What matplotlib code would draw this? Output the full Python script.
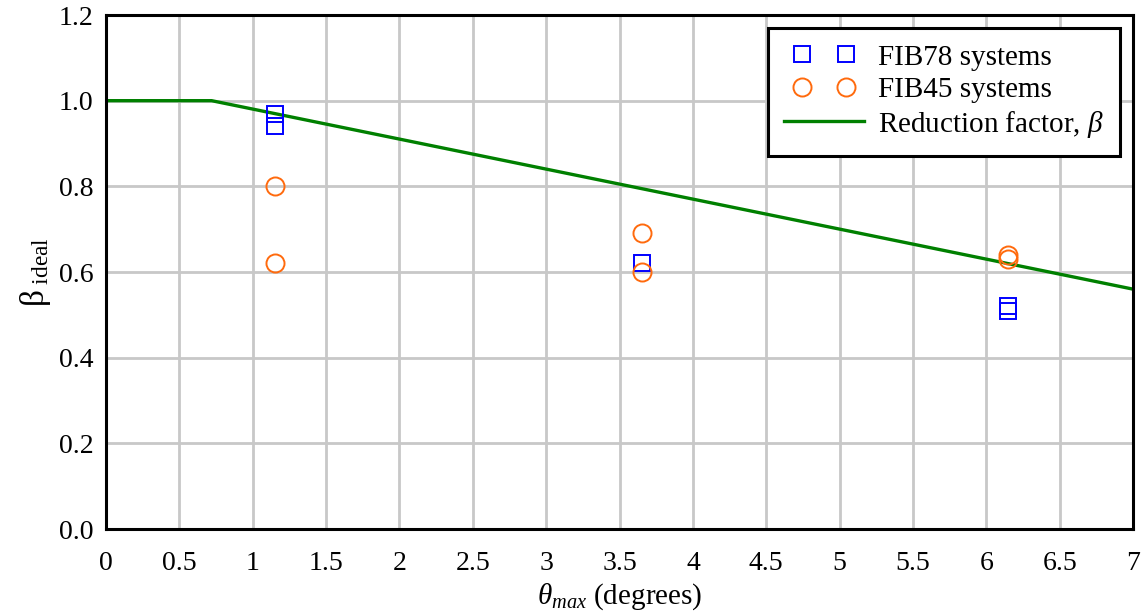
import matplotlib
matplotlib.use("Agg")
import matplotlib.pyplot as plt
from matplotlib.legend_handler import HandlerLine2D

plt.rcParams['font.family'] = ['Liberation Serif', 'DejaVu Serif']
plt.rcParams['mathtext.fontset'] = 'custom'
plt.rcParams['mathtext.rm'] = 'Liberation Serif'
plt.rcParams['mathtext.it'] = 'Liberation Serif:italic'

fib78_x = [1.15, 1.15, 3.65, 6.15, 6.15]
fib78_y = [0.97, 0.94, 0.62, 0.52, 0.51]
fib45_x = [1.15, 1.15, 3.65, 3.65, 6.15, 6.15]
fib45_y = [0.80, 0.62, 0.69, 0.60, 0.64, 0.63]
beta_x = [0, 0.72, 7]
beta_y = [1.0, 1.0, 0.56]

xticks = [0, 0.5, 1, 1.5, 2, 2.5, 3, 3.5, 4, 4.5, 5, 5.5, 6, 6.5, 7]
xticklabels = ['0', '0.5', '1', '1.5', '2', '2.5', '3', '3.5', '4', '4.5', '5', '5.5', '6', '6.5', '7']
yticks = [0, 0.2, 0.4, 0.6, 0.8, 1.0, 1.2]
yticklabels = ['0.0', '0.2', '0.4', '0.6', '0.8', '1.0', '1.2']

fig = plt.figure(figsize=(11.46, 6.15), dpi=100)
ax = fig.add_axes([0.0925, 0.1398, 0.8962, 0.8358])

h78, = ax.plot(fib78_x, fib78_y, linestyle='none', marker='s', markersize=12,
               markerfacecolor='none', markeredgecolor='#0000ff', markeredgewidth=1.4,
               label='FIB78 systems', zorder=3)
h45, = ax.plot(fib45_x, fib45_y, linestyle='none', marker='o', markersize=13,
               markerfacecolor='none', markeredgecolor='#ff6a0d', markeredgewidth=1.4,
               label='FIB45 systems', zorder=3)
hb, = ax.plot(beta_x, beta_y, color='#008000', linewidth=2.4,
              label=r'Reduction factor, $\mathit{\beta}$', zorder=2)

ax.set_xlim(0, 7)
ax.set_ylim(0, 1.2)
ax.set_xticks(xticks)
ax.set_xticklabels(xticklabels)
ax.set_yticks(yticks)
ax.set_yticklabels(yticklabels)
ax.tick_params(axis='both', length=0, labelsize=20)
ax.tick_params(axis='x', pad=16)
ax.tick_params(axis='y', pad=9)
ax.grid(True, color='#c8c8c8', linewidth=2)
ax.set_axisbelow(True)
for s in ax.spines.values():
    s.set_linewidth(2.2)
    s.set_color('black')

ax.set_xlabel(r'$\mathit{\theta_{max}}$ (degrees)', fontsize=21, labelpad=4)
ax.set_ylabel(r'$\mathrm{\beta}_{\mathrm{\ ideal}}$', fontsize=24, labelpad=4)

leg = ax.legend(handles=[h78, h45, hb], loc='upper right', fontsize=21,
                fancybox=False, framealpha=1, edgecolor='black',
                borderaxespad=0.45, handlelength=2.74, handletextpad=0.48,
                labelspacing=0.2, borderpad=0.55,
                handler_map={h78: HandlerLine2D(numpoints=2, marker_pad=0.62),
                             h45: HandlerLine2D(numpoints=2, marker_pad=0.62),
                             hb: HandlerLine2D(numpoints=2, marker_pad=0.0)})
leg.get_frame().set_linewidth(2.2)

fig.savefig('out.png', dpi=100)
